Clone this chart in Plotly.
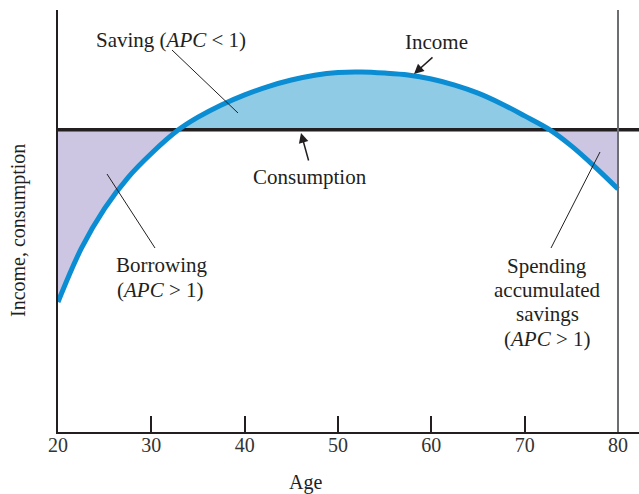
import plotly.graph_objects as go

# Life-cycle income against a flat consumption level
AGES = [20, 22.5, 25, 27.5, 30, 32.9, 35, 37.5, 40, 42.5, 45, 47.5, 50,
        52.5, 55, 57.5, 60, 62.5, 65, 67.5, 70, 72.7, 75, 77.5, 80]
INCOME = [30.8, 43.5, 53.0, 60.3, 66.0, 71.6, 74.6, 77.5, 79.9, 81.85, 83.4,
          84.55, 85.2, 85.3, 85.05, 84.6, 83.65, 82.2, 80.3, 77.8, 74.9, 71.6,
          67.8, 62.9, 57.6]
CONSUMPTION = 71.6
CROSS_EARLY = 32.9   # income rises above consumption
CROSS_LATE = 72.7    # income falls back below consumption
TICK_AGES = [20, 30, 40, 50, 60, 70, 80]
LIFE_END = 80

X_RANGE = [20, 82.25]
Y_RANGE = [0, 100]

W, H = 639, 494
ML, MR, MT, MB = 58, 0, 10, 62
PW, PH = W - ML - MR, H - MT - MB

INK = "#231f20"
BLUE_LINE = "#0a8dd3"
BLUE_FILL = "#90cbe6"
PURPLE_FILL = "#cdc6e2"
FONT = "Liberation Serif, Times New Roman, serif"


def px(x):
    return (x - ML) / PW


def py(y):
    return (MT + PH - y) / PH


def segment(lo, hi):
    xs = [a for a in AGES if lo <= a <= hi]
    ys = [v for a, v in zip(AGES, INCOME) if lo <= a <= hi]
    return xs, ys


fig = go.Figure()

# Borrowing region (early life) and dissaving region (late life)
for lo, hi in [(AGES[0], CROSS_EARLY), (CROSS_LATE, AGES[-1])]:
    xs, ys = segment(lo, hi)
    fig.add_trace(go.Scatter(x=xs, y=ys, mode="lines", line=dict(width=0, shape="spline"),
                             hoverinfo="skip", showlegend=False))
    fig.add_trace(go.Scatter(x=xs, y=[CONSUMPTION] * len(xs), mode="lines",
                             line=dict(width=0), fill="tonexty", fillcolor=PURPLE_FILL,
                             hoverinfo="skip", showlegend=False))

# Saving region (middle years)
xs, ys = segment(CROSS_EARLY, CROSS_LATE)
fig.add_trace(go.Scatter(x=xs, y=[CONSUMPTION] * len(xs), mode="lines", line=dict(width=0),
                         hoverinfo="skip", showlegend=False))
fig.add_trace(go.Scatter(x=xs, y=ys, mode="lines", line=dict(width=0, shape="spline"),
                         fill="tonexty", fillcolor=BLUE_FILL, hoverinfo="skip", showlegend=False))

# Consumption level
fig.add_trace(go.Scatter(x=X_RANGE, y=[CONSUMPTION, CONSUMPTION], mode="lines",
                         line=dict(color=INK, width=3.5), showlegend=False))

# Income curve
fig.add_trace(go.Scatter(x=AGES, y=INCOME, mode="lines",
                         line=dict(color=BLUE_LINE, width=5, shape="spline"), showlegend=False))

shapes = [
    # end-of-life marker at age 80
    dict(type="line", xref="x", yref="paper", x0=LIFE_END, x1=LIFE_END, y0=0, y1=1,
         line=dict(color="#6d6e71", width=2)),
]

# leader lines for the labels
for (x0, y0, x1, y1) in [(172, 50, 238, 113), (155, 248, 107, 174), (551, 248, 600, 152)]:
    shapes.append(dict(type="line", xref="paper", yref="paper", x0=px(x0), y0=py(y0),
                       x1=px(x1), y1=py(y1), line=dict(color=INK, width=1)))

annotations = []


def label(text, x, y, size=21):
    annotations.append(dict(text=text, xref="paper", yref="paper", x=px(x), y=py(y),
                            showarrow=False, xanchor="center", yanchor="middle",
                            font=dict(family=FONT, size=size, color=INK)))


label("Saving (<i>APC</i> &lt; 1)", 171, 40)
label("Income", 436, 42)
label("Consumption", 310, 177)
label("Borrowing", 161, 265)
label("(<i>APC</i> &gt; 1)", 160, 290)
label("Spending", 547, 266)
label("accumulated", 547, 290)
label("savings", 547, 314)
label("(<i>APC</i> &gt; 1)", 547, 339)
label("Age", 305, 482, size=20)
annotations.append(dict(text="Income, consumption", xref="paper", yref="paper",
                        x=px(18), y=py(231), showarrow=False, textangle=-90,
                        xanchor="center", yanchor="middle",
                        font=dict(family=FONT, size=20, color=INK)))

# pointer arrows
for (hx, hy, tx, ty) in [(414, 74, 434, 56), (301, 133, 309, 162)]:
    annotations.append(dict(text="", xref="paper", yref="paper", x=px(hx), y=py(hy),
                            ax=tx - hx, ay=ty - hy, showarrow=True, arrowhead=2,
                            arrowsize=1.3, arrowwidth=1.5, arrowcolor=INK, standoff=0))

fig.update_layout(
    width=W, height=H, autosize=False,
    margin=dict(l=ML, r=MR, t=MT, b=MB),
    paper_bgcolor="white", plot_bgcolor="white",
    shapes=shapes, annotations=annotations,
    xaxis=dict(range=X_RANGE, showline=True, linecolor=INK, linewidth=2,
               ticks="inside", ticklen=16, tickwidth=1.5, tickcolor=INK,
               tickvals=TICK_AGES, ticktext=[str(t) for t in TICK_AGES],
               tickfont=dict(family=FONT, size=20, color="#333333"),
               ticklabelstandoff=-6,
               showgrid=False, zeroline=False, fixedrange=True),
    yaxis=dict(range=Y_RANGE, showline=True, linecolor=INK, linewidth=2,
               ticks="", showticklabels=False, showgrid=False, zeroline=False,
               fixedrange=True),
)

fig.write_html("out.html")
